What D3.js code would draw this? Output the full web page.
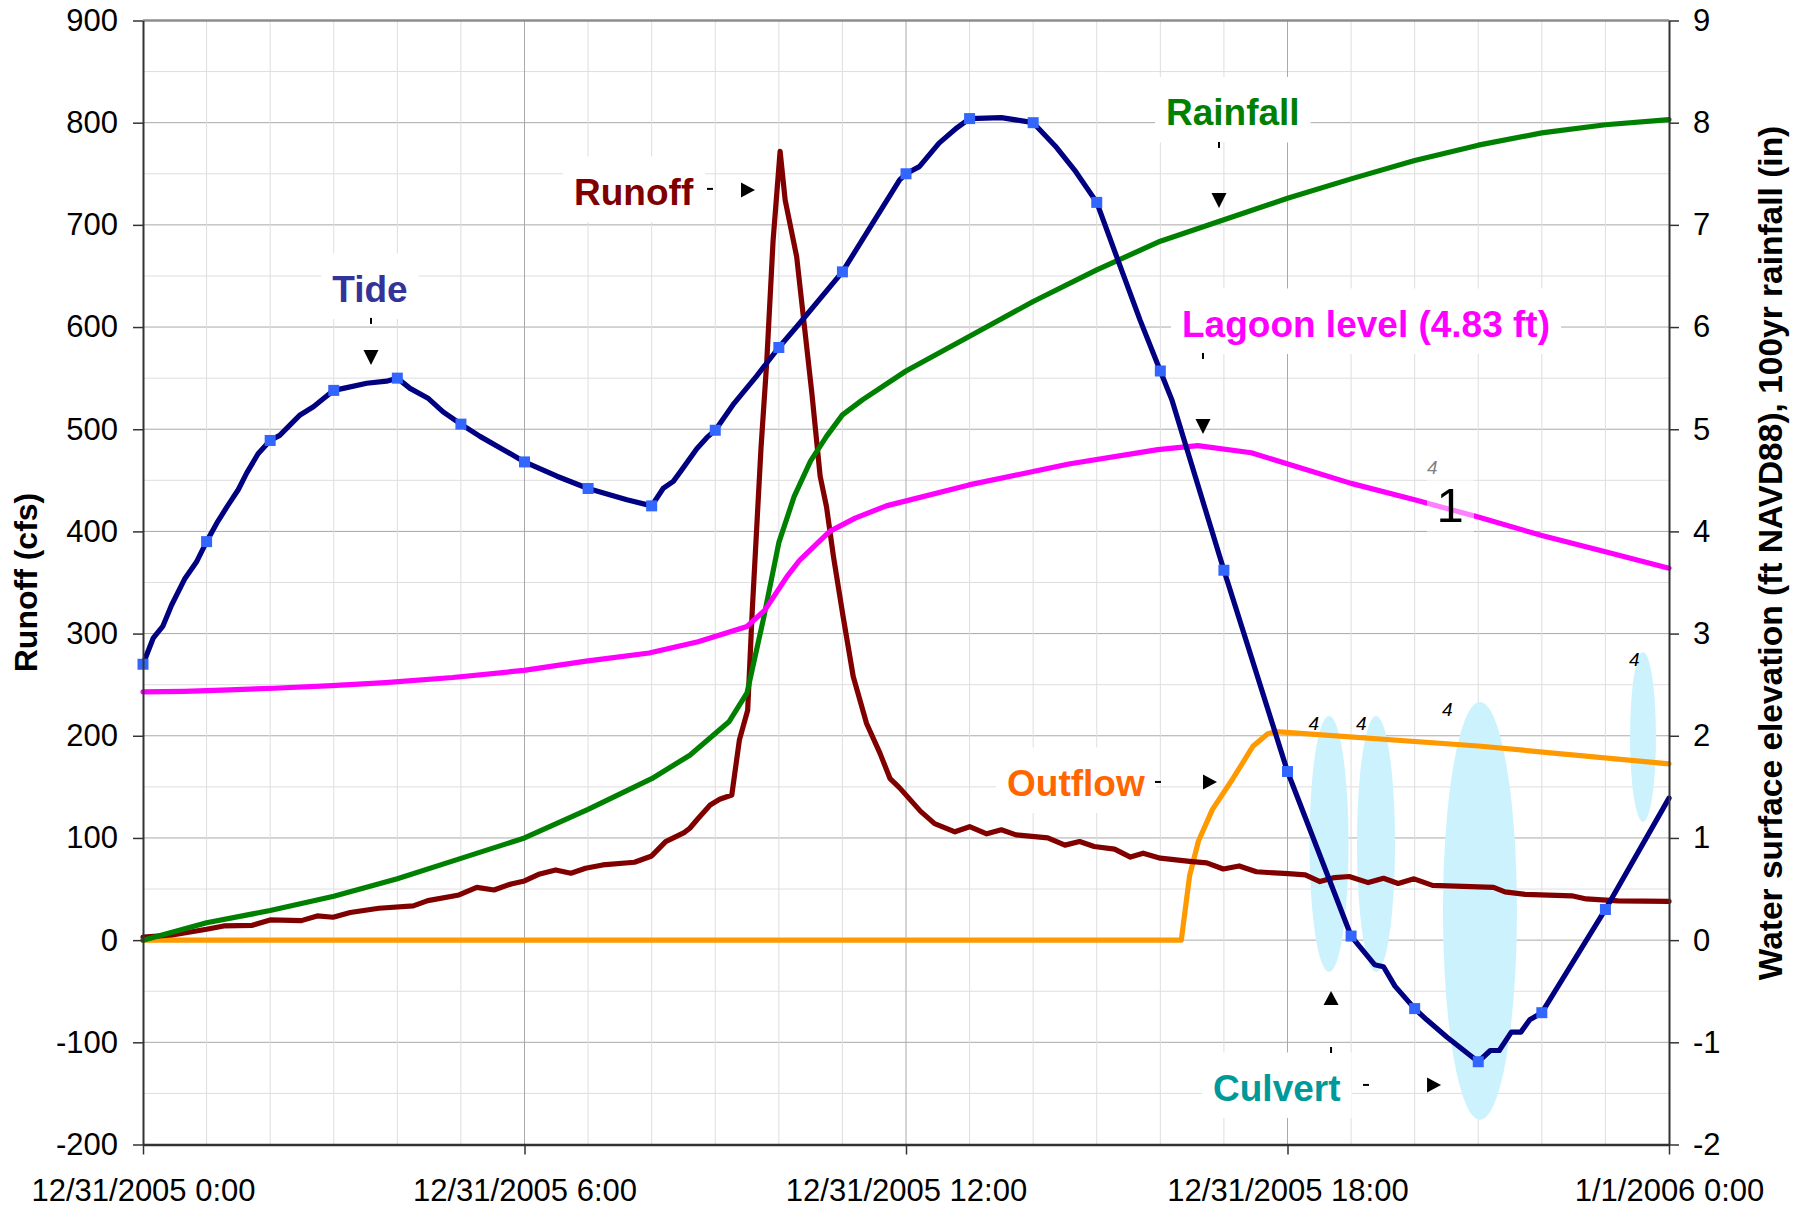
<!DOCTYPE html>
<html>
<head>
<meta charset="utf-8">
<script src="https://cdn.jsdelivr.net/npm/d3@7"></script>
<style>
  body { margin: 0; background: #fff; }
  svg { display: block; font-family: "Liberation Sans", Arial, sans-serif; }
</style>
</head>
<body>
<div id="chart"></div>
<script>
// hours after 12/31/2005 0:00 -> values
const runoff = [[0,3],[0.46,5],[1.0,10.6],[1.27,13.9],[1.72,14.5],[2.0,19.8],[2.49,19.1],[2.74,23.7],[2.99,22.4],[3.26,27],
  [3.71,31.2],[4.25,33.5],[4.48,38.7],[4.97,44.2],[5.25,51.7],[5.52,49.1],[5.79,55],[6.0,57.9],[6.24,64.8],[6.49,68.7],
  [6.73,65.5],[6.96,70.3],[7.23,73.6],[7.73,76.2],[8.0,82.4],[8.22,96.4],[8.51,105.2],[8.6,109.5],[8.72,118.3],[8.92,132.3],
  [9.07,137.9],[9.26,142],[9.38,196],[9.51,225],[9.58,320],[9.72,482],[9.81,566],[9.91,685],[10.02,772],[10.1,724],
  [10.28,669],[10.52,535],[10.65,454],[10.75,424],[10.86,375],[11.01,317],[11.17,258],[11.38,212],[11.59,183],[11.75,158],
  [11.9,149],[12.23,126],[12.45,114],[12.77,106],[13.0,111],[13.27,104],[13.5,108],[13.73,103],[14.23,100],[14.5,93],
  [14.73,96.5],[14.96,91.6],[15.28,89],[15.53,81.3],[15.73,85.1],[16.0,80.2],[16.46,77.1],[16.73,75.6],[16.99,69.6],[17.24,72.6],
  [17.51,66.9],[18.01,65],[18.28,63.8],[18.51,57.3],[18.74,61.2],[18.97,62.3],[19.27,56.3],[19.51,60.5],[19.74,55.5],[19.99,60],
  [20.28,53.6],[21.24,51.7],[21.42,47.2],[21.74,44.8],[22.47,43.4],[22.7,40.3],[23.2,38.4],[24,38]];

const outflow = [[0,0],[16.33,0],[16.46,63],[16.6,97],[16.82,128],[17.14,158],[17.46,190],[17.69,202],[17.82,204],[21.0,190],[24,172.5]];

const tide = [[0,2.70],[0.16,2.955],[0.31,3.07],[0.45,3.28],[0.66,3.54],[0.84,3.70],[1,3.90],[1.16,4.08],[1.32,4.24],[1.5,4.41],
  [1.63,4.57],[1.81,4.76],[2,4.89],[2.15,4.94],[2.47,5.14],[2.68,5.22],[2.84,5.30],[3,5.38],[3.15,5.40],[3.52,5.45],
  [3.83,5.47],[4,5.50],[4.2,5.40],[4.49,5.30],[4.72,5.17],[5,5.05],[5.3,4.93],[5.64,4.81],[6,4.68],[6.51,4.54],
  [7,4.42],[7.61,4.31],[8,4.25],[8.18,4.42],[8.34,4.49],[8.47,4.60],[8.71,4.81],[8.87,4.92],[9,4.99],[9.28,5.24],
  [9.65,5.52],[10,5.80],[10.33,6.04],[11,6.54],[11.54,7.08],[11.9,7.44],[12,7.50],[12.21,7.57],[12.52,7.80],[12.8,7.95],
  [13,8.04],[13.5,8.05],[14,8.00],[14.35,7.77],[14.67,7.52],[15,7.22],[15.33,6.66],[15.68,6.07],[16,5.57],[16.18,5.29],
  [17,3.62],[18,1.65],[19,0.04],[19.37,-0.24],[19.51,-0.26],[19.69,-0.45],[20,-0.67],[20.19,-0.78],[20.51,-0.95],[21,-1.19],
  [21.19,-1.08],[21.33,-1.08],[21.52,-0.90],[21.67,-0.90],[21.81,-0.78],[22,-0.71],[23,0.30],[24,1.39]];

const lagoon = [[0,2.43],[0.65,2.435],[1.36,2.45],[2.06,2.465],[2.97,2.49],[3.81,2.52],[4.87,2.57],[5.99,2.64],[6.97,2.73],[7.96,2.81],
  [8.73,2.92],[9.5,3.07],[9.78,3.23],[10.13,3.56],[10.33,3.72],[10.55,3.85],[10.8,4.0],[11.2,4.13],[11.69,4.25],[12.99,4.455],
  [14.56,4.66],[15.96,4.80],[16.59,4.84],[17.43,4.77],[18.16,4.63],[19,4.47],[20,4.31],[21,4.14],[22,3.96],[23,3.80],[24,3.64]];

const rainfall = [[0,0],[1,0.17],[2,0.29],[3,0.43],[4,0.6],[5,0.8],[6,1.0],[7,1.28],[8,1.58],[8.6,1.81],
  [9.22,2.14],[9.5,2.42],[9.76,3.15],[10,3.89],[10.24,4.34],[10.5,4.69],[10.75,4.93],[11,5.14],[11.32,5.29],[12,5.57],
  [13,5.91],[14,6.25],[15,6.56],[16,6.84],[17,7.05],[18,7.26],[19,7.45],[20,7.63],[21,7.78],[22,7.90],[23,7.98],[24,8.03]];

const leftTicks = [-200,-100,0,100,200,300,400,500,600,700,800,900];
const rightTicks = [-2,-1,0,1,2,3,4,5,6,7,8,9];
const timeTicks = [0,6,12,18,24];

// culvert ellipses: hour, cfs, half-width (h), half-height (cfs)
const culvertEllipses = [[18.653,94.1,0.307,125.3],[19.392,94.1,0.299,125.3],[21.027,28.6,0.582,204.5],[23.591,198.9,0.204,83.2]];

// callouts, placed in hours / cfs
const callouts = [
  {text:"Tide", color:"#333399", at:[3.57,624.6], anchor:"middle", arrows:[{dash:[3.586,606.0], tip:[3.586,562.8], dir:"down"}]},
  {text:"Runoff", color:"#800000", at:[6.779,719.5], anchor:"start", arrows:[{dash:[8.917,735.2], tip:[9.625,734.2], dir:"right"}]},
  {text:"Rainfall", color:"#008000", at:[16.089,797.3], anchor:"start", arrows:[{dash:[16.923,778.2], tip:[16.923,716.6], dir:"down"}]},
  {text:"Lagoon level (4.83 ft)", color:"#ff00ff", at:[16.341,590.3], anchor:"start", arrows:[{dash:[16.671,571.7], tip:[16.671,495.4], dir:"down"}]},
  {text:"Outflow", color:"#ff6600", at:[13.589,141.1], anchor:"start", arrows:[{dash:[15.963,154.8], tip:[16.891,154.8], dir:"right"}]},
  {text:"Culvert", color:"#009999", at:[16.829,-157.4], anchor:"start", arrows:[{dash:[19.235,-141.7], tip:[20.415,-141.7], dir:"right"},
                                                                     {dash:[18.685,-107.5], tip:[18.685,-49.7], dir:"up"}]}
];

const start = new Date(2005, 11, 31, 0, 0);
const toDate = h => new Date(start.getTime() + h * 3600000);

const W = 1808, H = 1209;
const plotL = 143, plotR = 1669, plotT = 20.5, plotB = 1144.5;

const svg = d3.select("#chart").append("svg").attr("width", W).attr("height", H);
svg.append("rect").attr("width", W).attr("height", H).attr("fill", "#fff");

const x = d3.scaleTime().domain([start, toDate(24)]).range([plotL, plotR]);
const yL = d3.scaleLinear().domain([-200, 900]).range([plotB, plotT]);
const yR = d3.scaleLinear().domain([-2, 9]).range([plotB, plotT]);
const xh = h => x(toDate(h));

// gridlines
const grid = svg.append("g");
grid.selectAll(".hg").data(d3.range(-200, 901, 50)).enter().append("line")
  .attr("x1", plotL).attr("x2", plotR)
  .attr("y1", d => yL(d)).attr("y2", d => yL(d))
  .attr("stroke", d => d % 100 === 0 ? "#a9a9a9" : "#dedede").attr("stroke-width", 1);
grid.selectAll(".vg").data(d3.range(1, 24)).enter().append("line")
  .attr("x1", d => xh(d)).attr("x2", d => xh(d))
  .attr("y1", plotT).attr("y2", plotB)
  .attr("stroke", d => d % 6 === 0 ? "#a9a9a9" : "#dedede").attr("stroke-width", 1);

// culvert ellipses
svg.append("g").selectAll("ellipse").data(culvertEllipses).enter().append("ellipse")
  .attr("cx", d => xh(d[0])).attr("cy", d => yL(d[1]))
  .attr("rx", d => xh(d[0] + d[2]) - xh(d[0]))
  .attr("ry", d => yL(d[1] - d[3]) - yL(d[1]))
  .attr("fill", "#ccf3fd");

const boxLayer = svg.append("g");

// series
const lineL = d3.line().x(d => xh(d[0])).y(d => yL(d[1]));
const lineR = d3.line().x(d => xh(d[0])).y(d => yR(d[1]));
const series = svg.append("g").attr("fill", "none").attr("stroke-width", 5.2)
  .attr("stroke-linejoin", "round").attr("stroke-linecap", "round");
series.append("path").datum(outflow).attr("stroke", "#ff9900").attr("d", lineL);
series.append("path").datum(runoff).attr("stroke", "#800000").attr("d", lineL);
series.append("path").datum(rainfall).attr("stroke", "#008000").attr("d", lineR);
series.append("path").datum(lagoon).attr("stroke", "#ff00ff").attr("d", lineR);
series.append("path").datum(tide).attr("stroke", "#000080").attr("d", lineR);

svg.append("g").selectAll("rect")
  .data(tide.filter(d => Number.isInteger(d[0]) && d[0] < 24))
  .enter().append("rect")
  .attr("x", d => xh(d[0]) - 5.5).attr("y", d => yR(d[1]) - 5.5)
  .attr("width", 11).attr("height", 11).attr("fill", "#3366ff");

// small anchor glyphs at ellipse corners
const glyphs = svg.append("g").attr("font-size", "19px").attr("font-style", "italic").attr("fill", "#000");
culvertEllipses.forEach(d => {
  const l = xh(d[0] - d[2]), t = yL(d[1] + d[3]);
  glyphs.append("text").attr("x", l - 1).attr("y", t + 14).text("4");
});

// "1" marker with pale box over the lagoon line
const flagX0 = xh(20.194), flagX1 = xh(20.933), flagY0 = yL(470), flagY1 = yL(398);
svg.append("rect").attr("x", flagX0).attr("y", flagY0)
  .attr("width", flagX1 - flagX0).attr("height", flagY1 - flagY0)
  .attr("fill", "#fff").attr("opacity", 0.5);
svg.append("text").attr("x", xh(20.556)).attr("y", yL(409)).attr("text-anchor", "middle")
  .attr("font-size", "49px").attr("fill", "#000").text("1");
glyphs.append("text").attr("x", flagX0).attr("y", flagY0 + 14).text("4");

// callouts
const labelLayer = svg.append("g");
callouts.forEach(c => {
  const tx = xh(c.at[0]), ty = yL(c.at[1]);
  const t = labelLayer.append("text").attr("x", tx).attr("y", ty)
    .attr("text-anchor", c.anchor).attr("font-size", "37px").attr("font-weight", "bold")
    .attr("fill", c.color).text(c.text);
  const bb = t.node().getBBox();
  boxLayer.append("rect").attr("x", bb.x - 11).attr("y", ty - 48.5)
    .attr("width", bb.width + 22).attr("height", 65.5).attr("fill", "#fff");
  c.arrows.forEach(a => {
    const dx = xh(a.dash[0]), dy = yL(a.dash[1]);
    const px = xh(a.tip[0]), py = yL(a.tip[1]);
    const horiz = a.dir === "right";
    labelLayer.append("line")
      .attr("x1", horiz ? dx - 3 : dx).attr("x2", horiz ? dx + 3 : dx)
      .attr("y1", horiz ? dy : dy - 3).attr("y2", horiz ? dy : dy + 3)
      .attr("stroke", "#000").attr("stroke-width", 2);
    let pts;
    if (a.dir === "down") pts = [[px, py], [px - 7.5, py - 15], [px + 7.5, py - 15]];
    else if (a.dir === "up") pts = [[px, py], [px - 7.5, py + 14], [px + 7.5, py + 14]];
    else pts = [[px, py], [px - 14, py - 7.5], [px - 14, py + 7.5]];
    labelLayer.append("polygon").attr("points", pts.map(p => p.join(",")).join(" ")).attr("fill", "#000");
  });
});

// plot frame top
svg.append("line").attr("x1", plotL).attr("x2", plotR).attr("y1", plotT).attr("y2", plotT)
  .attr("stroke", "#8c8c8c").attr("stroke-width", 2.5);

// axes
function styleAxis(g) {
  g.select(".domain").attr("stroke", "#333").attr("stroke-width", 2);
  g.selectAll(".tick line").attr("stroke", "#333").attr("stroke-width", 1.5);
  g.selectAll(".tick text").attr("font-size", "31px").attr("fill", "#000")
    .attr("font-family", "'Liberation Sans', Arial, sans-serif");
}
svg.append("g").attr("transform", `translate(${plotL},0)`)
  .call(d3.axisLeft(yL).tickValues(leftTicks).tickFormat(d => String(d)).tickSize(10).tickPadding(15).tickSizeOuter(0))
  .call(styleAxis);
svg.append("g").attr("transform", `translate(${plotR},0)`)
  .call(d3.axisRight(yR).tickValues(rightTicks).tickFormat(d => String(d)).tickSize(10).tickPadding(14).tickSizeOuter(0))
  .call(styleAxis);
svg.append("g").attr("transform", `translate(0,${plotB})`)
  .call(d3.axisBottom(x).tickValues(timeTicks.map(toDate)).tickFormat(d3.timeFormat("%-m/%-d/%Y %-H:%M"))
    .tickSize(10).tickPadding(24).tickSizeOuter(0))
  .call(styleAxis)
  .call(g => g.select(".domain").attr("stroke-width", 2.5));

// axis titles
svg.append("text").attr("transform", `translate(37,${(plotT + plotB) / 2}) rotate(-90)`)
  .attr("text-anchor", "middle").attr("font-size", "32px").attr("font-weight", "bold")
  .text("Runoff (cfs)");
svg.append("text").attr("transform", "translate(1782,553) rotate(-90)")
  .attr("text-anchor", "middle").attr("font-size", "33.5px").attr("font-weight", "bold")
  .text("Water surface elevation (ft NAVD88), 100yr rainfall (in)");
</script>
</body>
</html>
